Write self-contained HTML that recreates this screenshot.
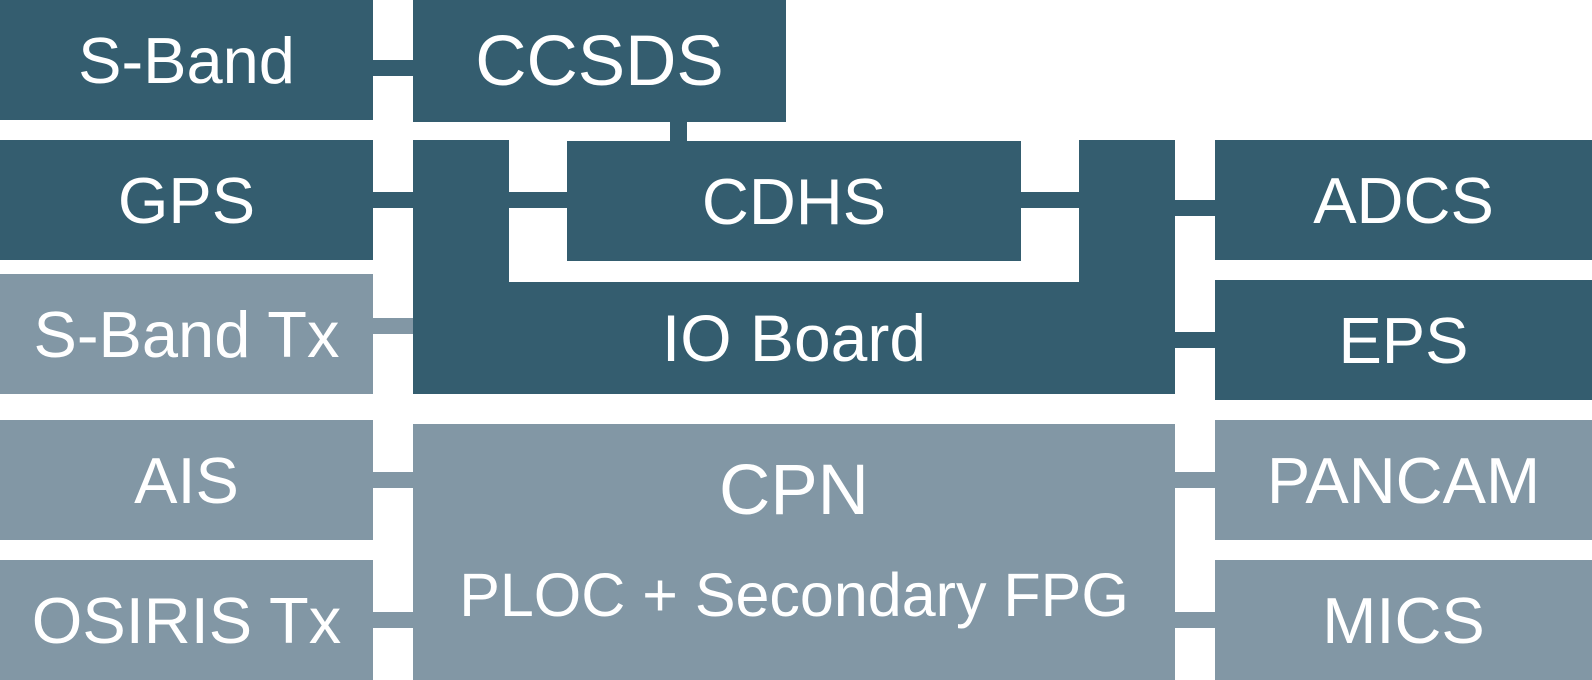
<!DOCTYPE html>
<html><head><meta charset="utf-8"><style>
body{margin:0;width:1592px;height:680px;background:#fff;position:relative;overflow:hidden;font-family:"Liberation Sans",Arial,sans-serif;}
div{position:absolute;}
.d{background:#345d6f;}
.l{background:#8297a5;}
.t{display:flex;align-items:center;justify-content:center;color:#fff;font-size:65px;white-space:nowrap;}
</style></head><body>
<!-- connectors -->
<div class="d" style="left:373px;top:60px;width:40px;height:16px"></div>
<div class="d" style="left:670px;top:118px;width:17px;height:26px"></div>
<div class="d" style="left:373px;top:192px;width:40px;height:16px"></div>
<div class="d" style="left:509px;top:192px;width:58px;height:16px"></div>
<div class="d" style="left:1021px;top:192px;width:58px;height:16px"></div>
<div class="d" style="left:1175px;top:200px;width:40px;height:16px"></div>
<div class="l" style="left:373px;top:318px;width:40px;height:16px"></div>
<div class="d" style="left:1175px;top:332px;width:40px;height:16px"></div>
<div class="l" style="left:373px;top:472px;width:40px;height:16px"></div>
<div class="l" style="left:1175px;top:472px;width:40px;height:16px"></div>
<div class="l" style="left:373px;top:612px;width:40px;height:16px"></div>
<div class="l" style="left:1175px;top:612px;width:40px;height:16px"></div>
<!-- blocks -->
<div class="d" style="left:413px;top:140px;width:96px;height:142px"></div>
<div class="d" style="left:1079px;top:140px;width:96px;height:142px"></div>
<!-- boxes -->
<div class="d t" style="left:0;top:0;width:373px;height:120px">S-Band</div>
<div class="d t" style="left:413px;top:0;width:373px;height:122px;font-size:71px">CCSDS</div>
<div class="d t" style="left:0;top:140px;width:373px;height:120px">GPS</div>
<div class="d t" style="left:567px;top:141px;width:454px;height:120px">CDHS</div>
<div class="d t" style="left:1215px;top:140px;width:377px;height:120px">ADCS</div>
<div class="l t" style="left:0;top:274px;width:373px;height:120px">S-Band Tx</div>
<div class="d t" style="left:413px;top:282px;width:762px;height:112px;font-size:66px">IO Board</div>
<div class="d t" style="left:1215px;top:280px;width:377px;height:120px">EPS</div>
<div class="l t" style="left:0;top:420px;width:373px;height:120px">AIS</div>
<div class="l t" style="left:1215px;top:420px;width:377px;height:120px">PANCAM</div>
<div class="l t" style="left:0;top:560px;width:373px;height:120px">OSIRIS Tx</div>
<div class="l t" style="left:1215px;top:560px;width:377px;height:120px">MICS</div>
<div class="l" style="left:413px;top:424px;width:762px;height:256px"></div>
<div class="t" style="left:413px;top:440px;width:762px;height:100px;font-size:71px">CPN</div>
<div class="t" style="left:413px;top:550px;width:762px;height:90px;font-size:61px">PLOC + Secondary FPG</div>
</body></html>
